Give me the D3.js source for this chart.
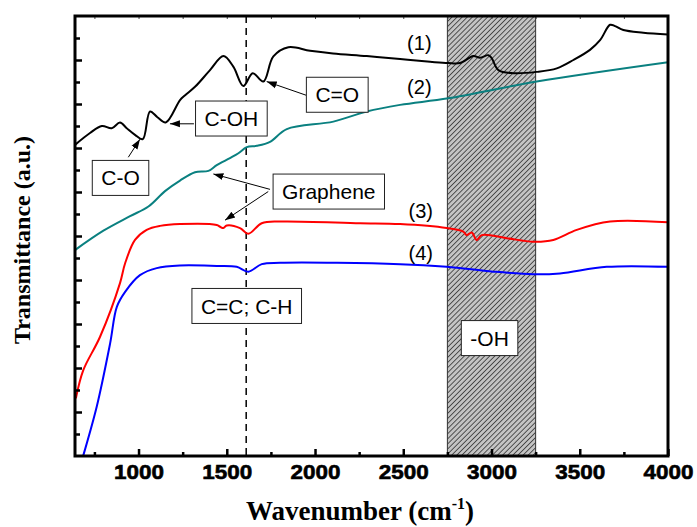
<!DOCTYPE html>
<html>
<head>
<meta charset="utf-8">
<script src="https://cdn.jsdelivr.net/npm/d3@7"></script>
<style>
  body { margin: 0; background: #fff; }
  svg { display: block; }
</style>
</head>
<body>
<div id="chart"></div>
<script>
// spectra (wavenumber, transmittance a.u.)
const wn1 = [640, 725, 792, 848, 895, 933, 980, 1024, 1065, 1107, 1154, 1235, 1264, 1320, 1405, 1481, 1537, 1594, 1647, 1707, 1764, 1849, 1972, 2102, 2293, 2482, 2652, 2754, 2822, 2897, 2935, 2982, 3001, 3039, 3124, 3256, 3370, 3464, 3558, 3615, 3672, 3700, 3747, 3860, 4000]
const t1 = [7.07, 7.34, 7.50, 7.45, 7.58, 7.45, 7.30, 7.20, 7.83, 7.70, 7.58, 8.09, 8.20, 8.39, 8.77, 9.09, 8.85, 8.41, 8.70, 8.51, 9.08, 9.29, 9.21, 9.15, 9.09, 9.02, 8.96, 8.93, 8.93, 9.09, 9.05, 9.11, 9.04, 8.77, 8.70, 8.73, 8.81, 9.00, 9.23, 9.45, 9.80, 9.77, 9.68, 9.62, 9.58]

const wn2 = [640, 801, 952, 1056, 1150, 1235, 1320, 1396, 1443, 1518, 1566, 1613, 1670, 1745, 1840, 2104, 2293, 2482, 2755, 3256, 4000]
const t2 = [4.68, 5.12, 5.45, 5.67, 6.02, 6.26, 6.45, 6.48, 6.61, 6.77, 6.88, 7.02, 7.05, 7.14, 7.43, 7.60, 7.83, 7.98, 8.13, 8.51, 8.95]

const wn3 = [645, 687, 782, 895, 924, 980, 1046, 1122, 1235, 1443, 1462, 1481, 1500, 1575, 1622, 1698, 1802, 2255, 2482, 2746, 2840, 2859, 2888, 2916, 2945, 3086, 3237, 3350, 3483, 3672, 4000]
const t3 = [1.31, 1.95, 2.71, 3.93, 4.38, 4.91, 5.14, 5.23, 5.27, 5.25, 5.21, 5.18, 5.24, 5.18, 5.05, 5.29, 5.33, 5.29, 5.27, 5.18, 5.10, 5.02, 5.08, 4.91, 5.02, 4.95, 4.87, 4.91, 5.14, 5.33, 5.31]

const wn4 = [663, 684, 763, 839, 877, 924, 1008, 1103, 1235, 1443, 1556, 1622, 1698, 1802, 2482, 2746, 3010, 3237, 3388, 3653, 4000]
const t4 = [-0.32, -0.03, 1.12, 2.56, 3.39, 3.73, 4.11, 4.27, 4.33, 4.32, 4.30, 4.19, 4.36, 4.39, 4.36, 4.30, 4.19, 4.13, 4.15, 4.30, 4.30]

const seriesNames = ['(1)', '(2)', '(3)', '(4)']
const seriesColors = ['#000000', '#0a8080', '#ff0000', '#0000ff']
const nameAt = [[2591, 9.38], [2591, 8.38], [2599, 5.57], [2599, 4.61]]

const xTicks = [1000, 1500, 2000, 2500, 3000, 3500, 4000]
const xMinor = [750, 1250, 1750, 2250, 2750, 3250, 3750]
const yMajor = [1, 2, 3, 4, 5, 6, 7, 8, 9]
const yMinor = [0.5, 1.5, 2.5, 3.5, 4.5, 5.5, 6.5, 7.5, 8.5, 9.5]

const ohBand = [2750, 3250]
const markerWn = 1610

// boxed labels: text, centre (wn, value)
const boxes = [
  ['C-O', 898, 6.32],
  ['C-OH', 1526, 7.67],
  ['C=O', 2126, 8.21],
  ['Graphene', 2078, 6.01],
  ['C=C; C-H', 1613, 3.41],
  ['-OH', 2989, 2.68]
]
// arrows: from (wn, value) to (wn, value)
const arrows = [
  [942, 6.79, 1008, 7.20],
  [1314, 7.55, 1178, 7.55],
  [1949, 8.20, 1726, 8.51],
  [1745, 6.06, 1424, 6.41],
  [1735, 6.01, 1490, 5.36]
]

const width = 697
const height = 527
const marginLeft = 75
const marginRight = 29
const marginTop = 16
const marginBottom = 71

const sans = "'Liberation Sans', Arial, sans-serif"
const serif = "'Liberation Serif', 'Times New Roman', serif"

const x = d3.scaleLinear([640, 4000], [marginLeft, width - marginRight])
const y = d3.scaleLinear([0, 10], [height - marginBottom, marginTop])

const svg = d3.select('#chart').append('svg')
  .attr('width', width)
  .attr('height', height)
  .attr('viewBox', [0, 0, width, height])

const defs = svg.append('defs')

defs.append('clipPath')
  .attr('id', 'plotClip')
  .append('rect')
  .attr('x', marginLeft)
  .attr('y', marginTop)
  .attr('width', width - marginLeft - marginRight)
  .attr('height', height - marginTop - marginBottom)

const hatch = defs.append('pattern')
  .attr('id', 'hatch')
  .attr('patternUnits', 'userSpaceOnUse')
  .attr('width', 3.6)
  .attr('height', 3.6)
  .attr('patternTransform', 'rotate(45)')
hatch.append('rect')
  .attr('width', 3.6).attr('height', 3.6)
  .attr('fill', '#c4c4c4')
hatch.append('line')
  .attr('x1', 0).attr('y1', 0).attr('x2', 0).attr('y2', 3.6)
  .attr('stroke', '#111')
  .attr('stroke-width', 1.3)

defs.append('marker')
  .attr('id', 'head')
  .attr('viewBox', '0 0 10 10')
  .attr('refX', 10).attr('refY', 5)
  .attr('markerWidth', 10).attr('markerHeight', 10)
  .attr('markerUnits', 'userSpaceOnUse')
  .attr('orient', 'auto')
  .append('path')
  .attr('d', 'M0,1.5L10,5L0,8.5Z')
  .attr('fill', '#000')

// -OH band
svg.append('rect')
  .attr('x', x(ohBand[0]))
  .attr('y', marginTop)
  .attr('width', x(ohBand[1]) - x(ohBand[0]))
  .attr('height', height - marginTop - marginBottom)
  .attr('fill', 'url(#hatch)')
  .attr('stroke', '#333')
  .attr('stroke-width', 1)

// dashed marker line
svg.append('line')
  .attr('x1', x(markerWn)).attr('x2', x(markerWn))
  .attr('y1', marginTop).attr('y2', height - marginBottom)
  .attr('stroke', '#000')
  .attr('stroke-width', 1.5)
  .attr('stroke-dasharray', '7, 5')

const line = d3.line()
  .curve(d3.curveCatmullRom.alpha(0.5))
  .x(d => x(d[0]))
  .y(d => y(d[1]))

const series = [[wn1, t1], [wn2, t2], [wn3, t3], [wn4, t4]]

svg.append('g')
  .attr('clip-path', 'url(#plotClip)')
  .selectAll('path')
  .data(series)
  .join('path')
  .attr('fill', 'none')
  .attr('stroke', (_, i) => seriesColors[i])
  .attr('stroke-width', 2)
  .attr('stroke-linejoin', 'round')
  .attr('d', ([w, t]) => line(w.map((v, i) => [v, t[i]])))

svg.append('g')
  .selectAll('text')
  .data(seriesNames)
  .join('text')
  .attr('x', (_, i) => x(nameAt[i][0]))
  .attr('y', (_, i) => y(nameAt[i][1]))
  .attr('dy', '0.35em')
  .attr('text-anchor', 'middle')
  .attr('font-family', sans)
  .attr('font-size', 20)
  .text(d => d)

// arrows
svg.append('g')
  .selectAll('line')
  .data(arrows)
  .join('line')
  .attr('x1', d => x(d[0]))
  .attr('y1', d => y(d[1]))
  .attr('x2', d => x(d[2]))
  .attr('y2', d => y(d[3]))
  .attr('stroke', '#000')
  .attr('stroke-width', 1)
  .attr('marker-end', 'url(#head)')

// boxed labels
const box = svg.append('g')
  .selectAll('g')
  .data(boxes)
  .join('g')
  .attr('transform', d => `translate(${x(d[1])}, ${y(d[2])})`)

box.append('rect')
  .attr('fill', '#fff')
  .attr('stroke', '#222')
  .attr('stroke-width', 1)

box.append('text')
  .attr('text-anchor', 'middle')
  .attr('dy', '0.36em')
  .attr('font-family', sans)
  .attr('font-size', 21)
  .text(d => d[0])

box.each(function () {
  const g = d3.select(this)
  const bb = g.select('text').node().getBBox()
  g.select('rect')
    .attr('x', -bb.width / 2 - 9)
    .attr('y', -17.5)
    .attr('width', bb.width + 18)
    .attr('height', 35)
})

// axes frame and ticks
svg.append('g')
  .attr('transform', `translate(0, ${height - marginBottom})`)
  .call(d3.axisBottom(x).tickValues(xTicks).tickSize(-7).tickPadding(14).tickFormat(d3.format('d')))
  .call(g => g.select('.domain').remove())
  .call(g => g.selectAll('.tick line').attr('stroke-width', 2.5))
  .call(g => g.selectAll('.tick text')
    .attr('font-family', sans)
    .attr('font-size', 21)
    .attr('font-weight', 'bold')
    .attr('fill', '#000')
    .attr('stroke', '#000')
    .attr('stroke-width', 0.6)
    .attr('dy', '0.45em')
    .attr('textLength', 50)
    .attr('lengthAdjust', 'spacingAndGlyphs'))

svg.append('g')
  .attr('transform', `translate(0, ${height - marginBottom})`)
  .call(d3.axisBottom(x).tickValues(xMinor).tickSize(-4).tickFormat(''))
  .call(g => g.select('.domain').remove())
  .call(g => g.selectAll('.tick line').attr('stroke-width', 2.5))

svg.append('g')
  .attr('transform', `translate(0, ${marginTop})`)
  .call(d3.axisTop(x).tickValues(xTicks.concat(xMinor)).tickSize(-3).tickFormat(''))
  .call(g => g.select('.domain').remove())
  .call(g => g.selectAll('.tick line').attr('stroke', '#444').attr('stroke-width', 1))

svg.append('g')
  .attr('transform', `translate(${marginLeft}, 0)`)
  .call(d3.axisLeft(y).tickValues(yMajor).tickSize(-7).tickFormat(''))
  .call(g => g.select('.domain').remove())
  .call(g => g.selectAll('.tick line').attr('stroke-width', 2.5))

svg.append('g')
  .attr('transform', `translate(${marginLeft}, 0)`)
  .call(d3.axisLeft(y).tickValues(yMinor).tickSize(-5).tickFormat(''))
  .call(g => g.select('.domain').remove())
  .call(g => g.selectAll('.tick line').attr('stroke-width', 2.5))

svg.append('rect')
  .attr('x', marginLeft)
  .attr('y', marginTop)
  .attr('width', width - marginLeft - marginRight)
  .attr('height', height - marginTop - marginBottom)
  .attr('fill', 'none')
  .attr('stroke', '#000')
  .attr('stroke-width', 3)

// axis titles
const xTitle = svg.append('text')
  .attr('x', 360)
  .attr('y', 520)
  .attr('text-anchor', 'middle')
  .attr('font-family', serif)
  .attr('font-size', 27)
  .attr('font-weight', 'bold')
xTitle.append('tspan').text('Wavenumber (cm')
xTitle.append('tspan').attr('dy', -11).attr('font-size', 16).text('-1')
xTitle.append('tspan').attr('dy', 11).text(')')

svg.append('text')
  .attr('transform', `translate(30, 240) rotate(-90)`)
  .attr('text-anchor', 'middle')
  .attr('font-family', serif)
  .attr('font-size', 24)
  .attr('font-weight', 'bold')
  .text('Transmittance (a.u.)')
</script>
</body>
</html>
